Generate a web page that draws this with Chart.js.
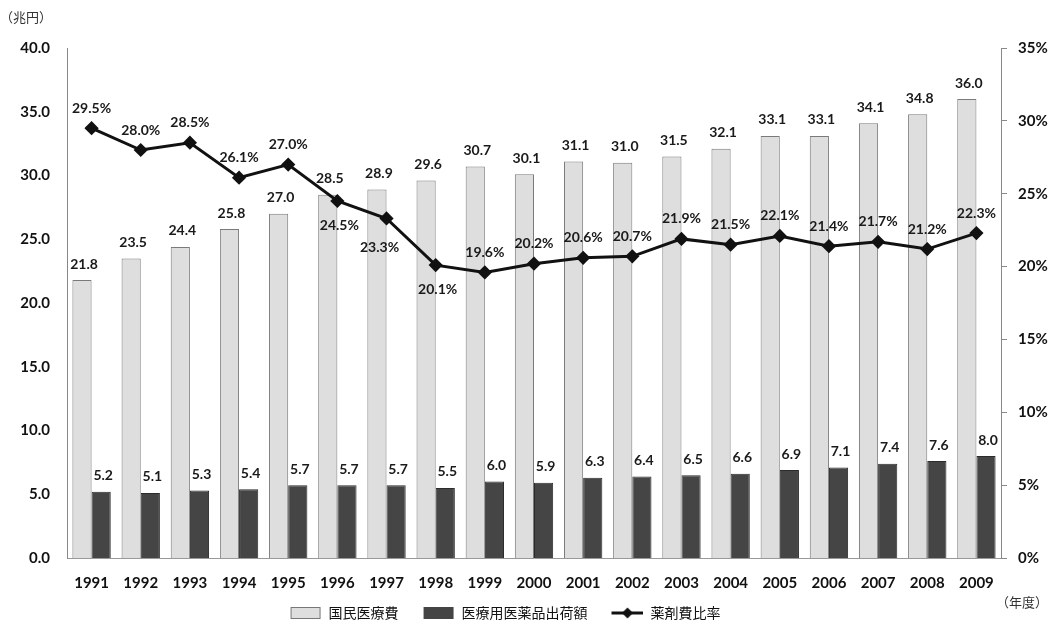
<!DOCTYPE html>
<html>
<head>
<meta charset="utf-8">
<script src="https://cdn.jsdelivr.net/npm/chart.js@4/dist/chart.umd.min.js"></script>
<style>
  html, body { margin: 0; padding: 0; background: #fff; }
  #wrap { width: 1056px; height: 627px; position: relative; }
</style>
</head>
<body>
<div id="wrap"><canvas id="chart" width="1056" height="627"></canvas></div>
<script>
// data
const years = ['1991','1992','1993','1994','1995','1996','1997','1998','1999','2000',
               '2001','2002','2003','2004','2005','2006','2007','2008','2009'];
const medicalCost = [21.8, 23.5, 24.4, 25.8, 27.0, 28.5, 28.9, 29.6, 30.7, 30.1,
                     31.1, 31.0, 31.5, 32.1, 33.1, 33.1, 34.1, 34.8, 36.0];
const drugShipment = [5.2, 5.1, 5.3, 5.4, 5.7, 5.7, 5.7, 5.5, 6.0, 5.9,
                      6.3, 6.4, 6.5, 6.6, 6.9, 7.1, 7.4, 7.6, 8.0];
const drugRatio = [29.5, 28.0, 28.5, 26.1, 27.0, 24.5, 23.3, 20.1, 19.6, 20.2,
                   20.6, 20.7, 21.9, 21.5, 22.1, 21.4, 21.7, 21.2, 22.3];
const seriesNames = ['国民医療費', '医療用医薬品出荷額', '薬剤費比率'];

// where each ratio label sits relative to its point
const ratioLabelPos = ['u','u','u','u','u','d','dl','d','u','u','u','u','u','u','u','u','u','u','u'];

const numFont = 'bold 14px Lato, "DejaVu Sans", sans-serif';
const tickFont = { family: 'Lato, "DejaVu Sans", sans-serif', size: 15, weight: 'bold' };
const jpFont = '"Noto Sans CJK JP", "Noto Sans", sans-serif';

// legend icons, with some empty room on the left to space the items out
function legendIcon(kind) {
    const c = document.createElement('canvas');
    const off = 14;
    c.width = 32 + off; c.height = 14;
    const g = c.getContext('2d');
    g.translate(off, 0);
    if (kind === 'light') {
        g.fillStyle = '#dedede'; g.fillRect(1.5, 1.5, 29, 11);
        g.strokeStyle = '#777'; g.lineWidth = 1; g.strokeRect(1.5, 1.5, 29, 11);
    } else if (kind === 'dark') {
        g.fillStyle = '#444'; g.fillRect(1, 1, 30, 12);
    } else {
        g.strokeStyle = '#111'; g.lineWidth = 3;
        g.beginPath(); g.moveTo(0, 7); g.lineTo(32, 7); g.stroke();
        g.fillStyle = '#111';
        g.beginPath(); g.moveTo(16, 1.5); g.lineTo(21.5, 7); g.lineTo(16, 12.5); g.lineTo(10.5, 7); g.closePath(); g.fill();
    }
    return c;
}

const valueLabels = {
    id: 'valueLabels',
    afterLayout(chart) {
        // the legend sits a little left of centre and a bit lower in the original
        chart.legend.left -= 30;
        chart.legend.right -= 30;
        chart.legend.top += 3;
        chart.legend.bottom += 3;
    },
    afterDatasetsDraw(chart) {
        const ctx = chart.ctx;
        ctx.save();
        ctx.font = numFont;
        ctx.fillStyle = '#1a1a1a';
        ctx.textAlign = 'center';
        ctx.textBaseline = 'middle';
        // bars
        [1, 2].forEach(di => {
            const meta = chart.getDatasetMeta(di);
            const vals = chart.data.datasets[di].data;
            meta.data.forEach((bar, i) => {
                ctx.fillText(vals[i].toFixed(1), bar.x + 2, bar.y - 16);
            });
        });
        // ratio line
        const lm = chart.getDatasetMeta(0);
        lm.data.forEach((pt, i) => {
            const p = ratioLabelPos[i];
            let x = pt.x, y = pt.y - 20;
            if (p === 'd') { y = pt.y + 24; x = pt.x + 2; }
            if (p === 'dl') { y = pt.y + 29; x = pt.x - 7; }
            ctx.fillText(drugRatio[i].toFixed(1) + '%', x, y);
        });
        // unit captions
        ctx.font = '13px ' + jpFont;
        ctx.fillStyle = '#333';
        ctx.textAlign = 'left';
        ctx.fillText('（兆円）', 0, 17);
        ctx.fillText('（年度）', 996, 602);
        ctx.restore();
    }
};

const ctx = document.getElementById('chart').getContext('2d');
new Chart(ctx, {
    type: 'bar',
    data: {
        labels: years,
        datasets: [
            {
                type: 'line',
                label: seriesNames[2],
                data: drugRatio,
                yAxisID: 'yr',
                borderColor: '#111',
                borderWidth: 3,
                pointStyle: 'rectRot',
                pointRadius: 5,
                pointBackgroundColor: '#111',
                pointBorderColor: '#111',
                tension: 0
            },
            {
                label: seriesNames[0],
                data: medicalCost,
                yAxisID: 'y',
                backgroundColor: '#dedede',
                borderColor: '#7a7a7a',
                borderWidth: 1,
                categoryPercentage: 0.78,
                barPercentage: 1
            },
            {
                label: seriesNames[1],
                data: drugShipment,
                yAxisID: 'y',
                backgroundColor: '#454545',
                borderColor: '#2c2c2c',
                borderWidth: 1,
                categoryPercentage: 0.78,
                barPercentage: 1
            }
        ]
    },
    options: {
        responsive: false,
        animation: false,
        layout: { padding: { top: 48, left: 0, right: 0, bottom: 0 } },
        plugins: {
            tooltip: { enabled: false },
            legend: {
                position: 'bottom',
                labels: {
                    usePointStyle: true,
                    pointStyleWidth: 46,
                    padding: 10,
                    color: '#111',
                    font: { family: jpFont, size: 14 },
                    generateLabels() {
                        return [
                            { text: seriesNames[0], pointStyle: legendIcon('light'), datasetIndex: 1, fontColor: '#111', lineWidth: 0 },
                            { text: seriesNames[1], pointStyle: legendIcon('dark'), datasetIndex: 2, fontColor: '#111', lineWidth: 0 },
                            { text: seriesNames[2], pointStyle: legendIcon('line'), datasetIndex: 0, fontColor: '#111', lineWidth: 0 }
                        ];
                    }
                }
            }
        },
        scales: {
            x: {
                grid: { display: false, drawTicks: false },
                border: { color: '#999', width: 1 },
                ticks: { color: '#111', font: tickFont, padding: 16, maxRotation: 0 },
                afterFit(s) { s.height = 35; }
            },
            y: {
                position: 'left',
                min: 0, max: 40,
                grid: { display: false, drawTicks: false },
                border: { color: '#888', width: 1 },
                ticks: { stepSize: 5, color: '#111', font: tickFont, padding: 17,
                         callback: v => v.toFixed(1) },
                afterFit(s) { s.width = 67; }
            },
            yr: {
                position: 'right',
                min: 0, max: 35,
                grid: { drawOnChartArea: false, drawTicks: true, tickLength: 6, color: '#888' },
                border: { color: '#888', width: 1 },
                ticks: { stepSize: 5, color: '#111', font: tickFont, padding: 11,
                         callback: v => v + '%' },
                afterFit(s) { s.width = 55; }
            }
        }
    },
    plugins: [valueLabels]
});
</script>
</body>
</html>
